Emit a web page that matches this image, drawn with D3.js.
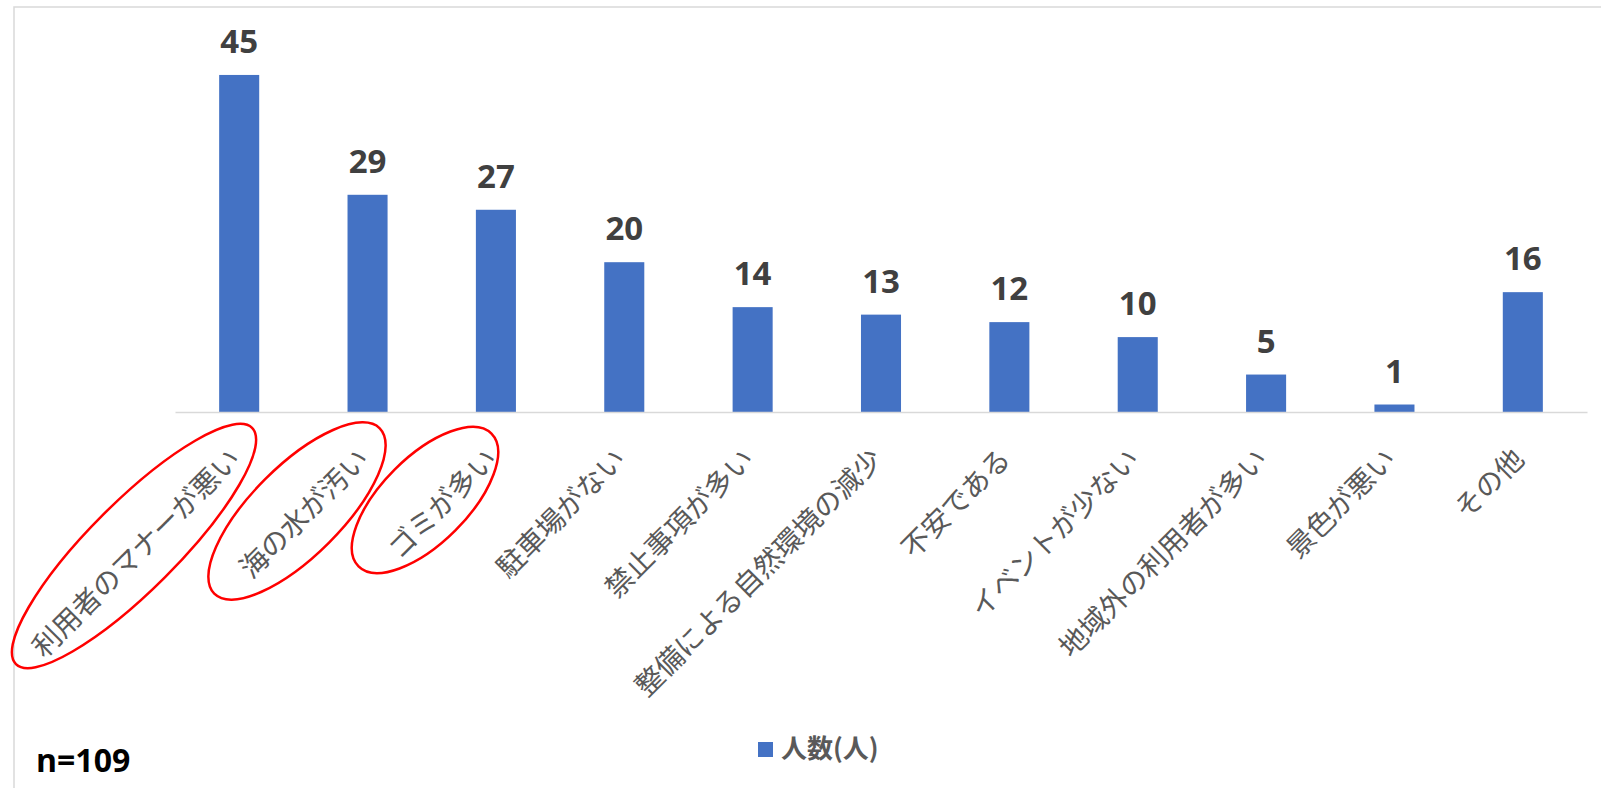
<!DOCTYPE html>
<html>
<head>
<meta charset="utf-8">
<script src="https://cdn.jsdelivr.net/npm/d3@7"></script>
<style>
  body { margin: 0; background: #fff; }
  svg { display: block; }
</style>
</head>
<body>
<div id="chart"></div>
<script>
// data
var categories = ["利用者のマナーが悪い", "海の水が汚い", "ゴミが多い", "駐車場がない", "禁止事項が多い",
  "整備による自然環境の減少", "不安である", "イベントが少ない", "地域外の利用者が多い", "景色が悪い", "その他"]
var counts = [45, 29, 27, 20, 14, 13, 12, 10, 5, 1, 16]
var seriesName = "人数(人)"
var sampleNote = "n=109"
// red hand-drawn circles around the top 3 answers (annotation, not data)
var highlights = [
  {cx: 134, cy: 546, rx: 167, ry: 44},
  {cx: 297, cy: 511, rx: 117, ry: 45},
  {cx: 425, cy: 500, rx: 94, ry: 43}
]

var W = 1601, H = 788
var svg = d3.select("#chart").append("svg")
  .attr("width", W)
  .attr("height", H)

// chart frame (only top/left edges visible)
svg.append("rect")
  .attr("x", 14).attr("y", 7)
  .attr("width", W + 20).attr("height", H + 20)
  .attr("fill", "none")
  .attr("stroke", "#d9d9d9")
  .attr("stroke-width", 1.5)

var x = d3.scaleBand()
  .domain(categories)
  .range([175, 1587])
  .paddingInner(0.688)
  .paddingOuter(0.344)

var y = d3.scaleLinear()
  .domain([0, 50])
  .range([412, 37.5])

var blue = "#4472c4"

svg.selectAll(".bar")
  .data(categories)
  .enter()
  .append("rect")
  .attr("class", "bar")
  .attr("x", function(d){ return x(d) })
  .attr("y", function(d, i){ return y(counts[i]) })
  .attr("width", x.bandwidth())
  .attr("height", function(d, i){ return y(0) - y(counts[i]) })
  .attr("fill", blue)

// axis baseline
var xAxis = svg.append("g")
  .attr("transform", "translate(0," + y(0) + ")")
  .call(d3.axisBottom(x).tickSize(0).tickFormat(""))
xAxis.select(".domain").attr("stroke", "#d9d9d9").attr("stroke-width", 1.5)

// value labels
svg.selectAll(".val")
  .data(categories)
  .enter()
  .append("text")
  .attr("class", "val")
  .attr("x", function(d){ return x(d) + x.bandwidth() / 2 })
  .attr("y", function(d, i){ return y(counts[i]) - 22 })
  .attr("text-anchor", "middle")
  .attr("font-family", "'Open Sans', sans-serif")
  .attr("font-weight", 700)
  .attr("font-size", 33)
  .attr("fill", "#404040")
  .text(function(d, i){ return counts[i] })

// rotated category labels
svg.selectAll(".cat")
  .data(categories)
  .enter()
  .append("text")
  .attr("class", "cat")
  .attr("transform", function(d){
    return "translate(" + (x(d) + x.bandwidth() / 2 + 3) + ",461) rotate(-45)"
  })
  .attr("text-anchor", "end")
  .attr("font-family", "'Noto Sans CJK JP', sans-serif")
  .attr("font-size", 28)
  .attr("fill", "#595959")
  .text(function(d){ return d })

// red ellipses
svg.selectAll(".hl")
  .data(highlights)
  .enter()
  .append("ellipse")
  .attr("class", "hl")
  .attr("transform", function(d){ return "translate(" + d.cx + "," + d.cy + ") rotate(-45)" })
  .attr("rx", function(d){ return d.rx })
  .attr("ry", function(d){ return d.ry })
  .attr("fill", "none")
  .attr("stroke", "#ff0000")
  .attr("stroke-width", 2.5)

// legend
var legend = svg.append("g").attr("transform", "translate(758,742)")
legend.append("rect")
  .attr("width", 15).attr("height", 15)
  .attr("fill", blue)
legend.append("text")
  .attr("x", 23).attr("y", 16)
  .attr("font-family", "'Noto Sans CJK JP', sans-serif")
  .attr("font-weight", 700)
  .attr("font-size", 26)
  .attr("fill", "#595959")
  .text(seriesName)

// sample size note
svg.append("text")
  .attr("x", 36).attr("y", 772)
  .attr("font-family", "'Open Sans', sans-serif")
  .attr("font-weight", 700)
  .attr("font-size", 32)
  .attr("fill", "#000")
  .text(sampleNote)
</script>
</body>
</html>
